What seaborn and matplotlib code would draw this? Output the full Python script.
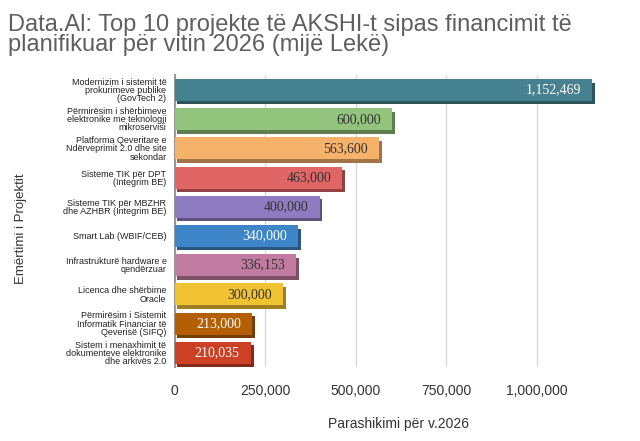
import matplotlib
matplotlib.use("Agg")
import matplotlib.pyplot as plt
import matplotlib.patheffects as pe
import matplotlib.colors as mcolors
import pandas as pd
import seaborn as sns

projects = [
    "Modernizim i sistemit të\nprokurimeve publike\n(GovTech 2)",
    "Përmirësim i shërbimeve\nelektronike me teknologji\nmikroservisi",
    "Platforma Qeveritare e\nNdërveprimit 2.0 dhe site\nsekondar",
    "Sisteme TIK për DPT\n(Integrim BE)",
    "Sisteme TIK për MBZHR\ndhe AZHBR (Integrim BE)",
    "Smart Lab (WBIF/CEB)",
    "Infrastrukturë hardware e\nqendërzuar",
    "Licenca dhe shërbime\nOracle",
    "Përmirësim i Sistemit\nInformatik Financiar të\nQeverisë (SIFQ)",
    "Sistem i menaxhimit të\ndokumenteve elektronike\ndhe arkivës 2.0",
]
budget = [1152469, 600000, 563600, 463000, 400000, 340000, 336153, 300000, 213000, 210035]
bar_colors = ["#45818e", "#93c47d", "#f6b26b", "#e06666", "#8e7cc3",
              "#3d85c6", "#c27ba0", "#f1c232", "#b45f06", "#cc4125"]
label_colors = ["white", "#333333", "#333333", "#333333", "#333333",
                "white", "#333333", "#333333", "white", "white"]

df = pd.DataFrame({"project": projects, "budget": budget})

sns.set_theme(style="white")
plt.rcParams["font.family"] = ["Liberation Sans", "DejaVu Sans"]

fig = plt.figure(figsize=(6.4, 4.41), dpi=100)
ax = fig.add_axes([0.273, 0.167, 0.7, 0.662])

sns.barplot(data=df, y="project", x="budget", hue="project", palette=bar_colors,
            legend=False, width=0.75, saturation=1, linewidth=0, ax=ax, zorder=3)

# fake 3D look: darker copy offset down/right
for patch, col in zip(ax.patches, bar_colors):
    dark = [c * 0.65 for c in mcolors.to_rgb(col)]
    patch.set_path_effects([
        pe.SimplePatchShadow(offset=(2, -2.5), shadow_rgbFace=dark, alpha=1.0),
        pe.Normal(),
    ])

for patch, val, tc in zip(ax.patches, budget, label_colors):
    y = patch.get_y() + patch.get_height() / 2
    ax.annotate(f"{val:,}", xy=(patch.get_width(), y), xytext=(-8, 0),
                textcoords="offset points", ha="right", va="center",
                fontsize=10, color=tc, family=["Liberation Serif", "DejaVu Serif"],
                zorder=4)

ax.set_xlim(0, 1237000)
ax.set_xticks([0, 250000, 500000, 750000, 1000000])
ax.set_xticklabels(["0", "250,000", "500,000", "750,000", "1,000,000"])
ax.tick_params(axis="x", labelsize=10, labelcolor="#333333", pad=12, length=0)
ax.tick_params(axis="y", labelsize=6.5, labelcolor="#222222", pad=6, length=0)
for t in ax.get_yticklabels():
    t.set_linespacing(0.88)

ax.grid(axis="x", color="#d9d9d9", linewidth=1, zorder=0)
ax.grid(axis="y", visible=False)
for side in ["top", "right", "bottom"]:
    ax.spines[side].set_visible(False)
ax.spines["left"].set_color("#999999")
ax.spines["left"].set_linewidth(1.5)

ax.set_xlabel("Parashikimi për v.2026", fontsize=10, color="#333333", labelpad=14)
ax.set_ylabel("Emërtimi i Projektit", fontsize=9.5, color="#333333")
ax.yaxis.set_label_coords(-0.33, 0.475)

fig.text(0.012, 0.968, "Data.Al: Top 10 projekte të AKSHI-t sipas financimit të\nplanifikuar për vitin 2026 (mijë Lekë)",
         ha="left", va="top", fontsize=17, color="#5f5f5f", linespacing=0.9)

fig.savefig("out.png", dpi=100)
